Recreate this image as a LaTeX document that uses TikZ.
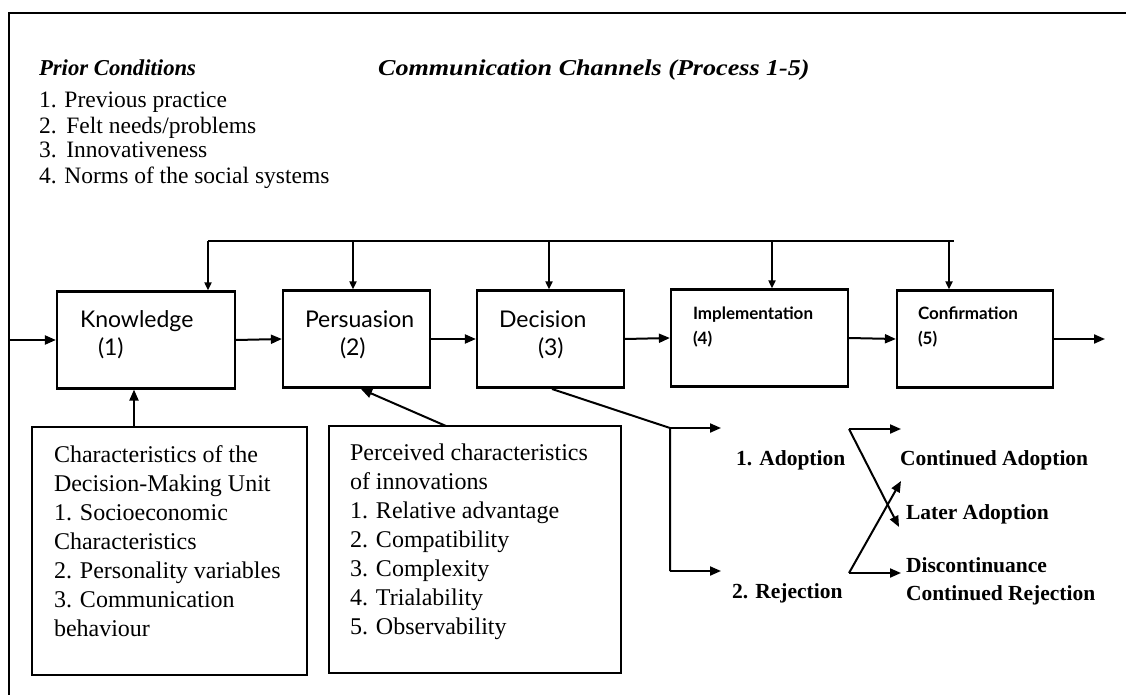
\documentclass[tikz,border=0pt]{standalone}
\usepackage{fontspec}
\setmainfont{Liberation Serif}
\newfontfamily\stagefont{Lato}
\usetikzlibrary{arrows.meta}

\begin{document}
\begin{tikzpicture}[x=1pt,y=-1pt,
  line width=2pt,
  stagebox/.style={draw, line width=2.2pt, minimum height=97pt, inner sep=0pt},
  listbox/.style={draw, line width=2.2pt, inner sep=0pt},
  arr/.style={-{Triangle[length=11pt,width=9pt]}, line width=2pt},
  droparr/.style={-{Triangle[length=8pt,width=7pt]}, line width=1.8pt},
  headtxt/.style={anchor=base west, inner sep=0pt, font=\fontsize{22.7}{26}\selectfont\bfseries\itshape},
  listtxt/.style={anchor=base west, inner sep=0pt, align=left, font=\fontsize{23.5}{25}\selectfont},
  boxtxt/.style={anchor=base west, inner sep=0pt, align=left, font=\fontsize{24}{29}\selectfont},
  stagetxt/.style={anchor=base west, inner sep=0pt, font=\stagefont\fontsize{23}{26}\selectfont},
  stagebold/.style={anchor=base west, inner sep=0pt, font=\stagefont\bfseries\fontsize{17}{20}\selectfont},
  outtxt/.style={anchor=base west, inner sep=0pt, font=\fontsize{21.5}{26}\selectfont\bfseries}]

\useasboundingbox (0,0) rectangle (1126,695);

% outer frame (top and left edges)
\coordinate (frTR) at (1126,13);
\coordinate (frTL) at (9,13);
\coordinate (frBL) at (9,695);
\draw[line width=2.2pt] (frTR) -- (frTL) -- (frBL);

% headings
\node[headtxt] (hPrior) at (38,76) {Prior Conditions};
\node[headtxt, transform shape, xscale=1.15] (hComm) at (377,76) {Communication Channels (Process 1-5)};

% prior conditions list (anchored on the baseline of its last line)
\node[listtxt] (prior) at (38,183) {1. Previous practice\\2.\ \,Felt needs/problems\\3.\ \,Innovativeness\\4. Norms of the social systems};

% the five stages
\node[stagebox, minimum width=178pt] (K) at (146,340) {};
\node[stagebox, minimum width=147pt] (P) at (356.5,339) {};
\node[stagebox, minimum width=147pt] (D) at (550.5,339) {};
\node[stagebox, minimum width=177pt] (I) at (759.5,338) {};
\node[stagebox, minimum width=156pt] (C) at (975,339) {};

\node[stagetxt] (tK) at (79,327) {Knowledge};
\node[stagetxt] (nK) at (97,355) {(1)};
\node[stagetxt] (tP) at (304,327) {Persuasion};
\node[stagetxt] (nP) at (339,355) {(2)};
\node[stagetxt] (tD) at (498,327) {Decision};
\node[stagetxt] (nD) at (537,355) {(3)};
\node[stagebold] (tI) at (692,319) {Implementation};
\node[stagebold] (nI) at (692,344) {(4)};
\node[stagebold] (tC) at (917,319) {Confirmation};
\node[stagebold] (nC) at (917,344) {(5)};

% flow through the stages
\coordinate (inL) at (9,340);
\coordinate (outR) at (1105,339);
\draw[arr] (inL) -- (K.west);
\draw[arr] (K.east) -- (P.west);
\draw[arr] (P.east) -- (D.west);
\draw[arr] (D.east) -- (I.west);
\draw[arr] (I.east) -- (C.west);
\draw[arr] (C.east) -- (outR);

% communication channels bus
\coordinate (bK) at (208,241);
\coordinate (bP) at (353,241);
\coordinate (bD) at (549,241);
\coordinate (bI) at (772,241);
\coordinate (bC) at (949,241);
\coordinate (bEnd) at (954,241);
\draw (bK) -- (bEnd);
\draw[droparr] (bK) -- (bK |- K.north);
\draw[droparr] (bP) -- (bP |- P.north);
\draw[droparr] (bD) -- (bD |- D.north);
\draw[droparr] (bI) -- (bI |- I.north);
\draw[droparr] (bC) -- (bC |- C.north);

% characteristics boxes (texts anchored on the baseline of their last line)
\node[listbox, minimum width=275pt, minimum height=248pt] (A) at (169.5,551) {};
\node[boxtxt] (tA) at (53,636) {Characteristics of the\\Decision-Making Unit\\1. Socioeconomic\\Characteristics\\2. Personality variables\\3. Communication\\behaviour};
\node[listbox, minimum width=292pt, minimum height=247pt] (B) at (475,549.5) {};
\node[boxtxt] (tB) at (349,634) {Perceived characteristics\\of innovations\\1. Relative advantage\\2. Compatibility\\3. Complexity\\4. Trialability\\5. Observability};

\coordinate (aUp) at (134,427);
\draw[arr] (aUp) -- (aUp |- K.south);
\coordinate (bUp) at (446,426);
\coordinate (pIn) at (361,389);
\draw[arr] (bUp) -- (pIn);

% decision outcomes
\coordinate (dOut) at (552,389);
\coordinate (fork) at (670,428);
\coordinate (forkB) at (670,571);
\coordinate (adA) at (721,428);
\coordinate (rjA) at (721,571);
\draw (dOut) -- (fork) -- (forkB);
\draw[arr] (fork) -- (adA);
\draw[arr] (forkB) -- (rjA);

\node[outtxt] (ad) at (735,465) {1. Adoption};
\node[outtxt] (rj) at (731,598) {2. Rejection};
\node[outtxt] (cAd) at (899,465) {Continued Adoption};
\node[outtxt] (lAd) at (905,519) {Later Adoption};
\node[outtxt] (dis) at (905,572) {Discontinuance};
\node[outtxt] (cRj) at (905,600) {Continued Rejection};

\coordinate (adO) at (849,429);
\coordinate (adC) at (901,429);
\coordinate (adL) at (899,527);
\draw[arr] (adO) -- (adC);
\draw[arr] (adO) -- (adL);
\coordinate (rjO) at (849,573);
\coordinate (rjD) at (901,573);
\coordinate (rjL) at (901,481);
\draw[arr] (rjO) -- (rjD);
\draw[arr] (rjO) -- (rjL);

\end{tikzpicture}
\end{document}
